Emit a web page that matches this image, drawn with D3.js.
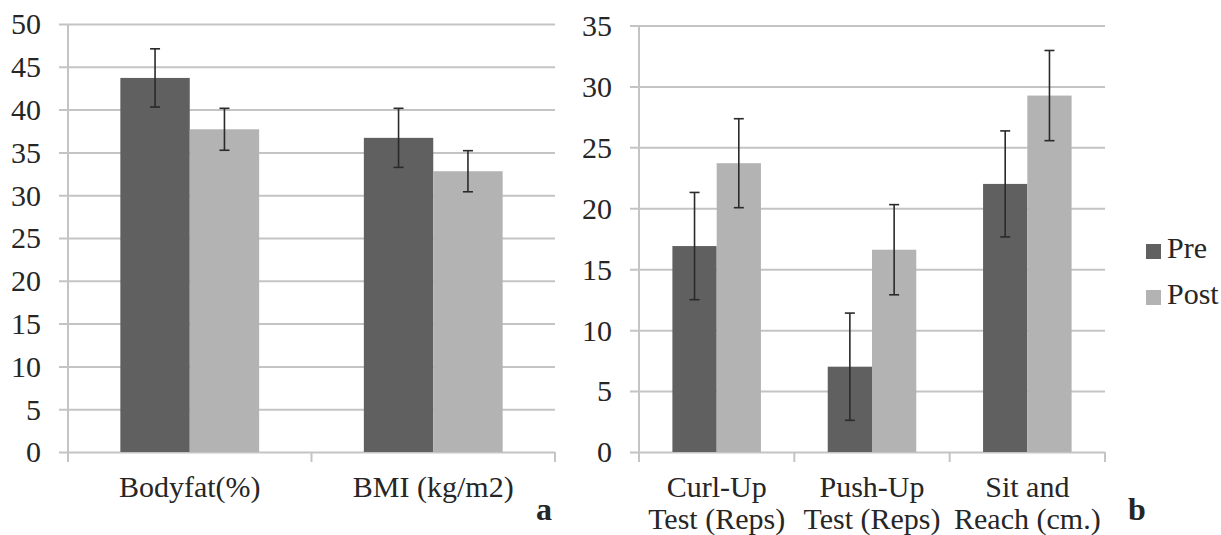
<!DOCTYPE html>
<html>
<head>
<meta charset="utf-8">
<script src="https://cdn.jsdelivr.net/npm/d3@7"></script>
<style>
  body { margin: 0; background: #fff; }
  svg text { font-family: 'Liberation Serif', 'Times New Roman', Tinos, 'DejaVu Serif', serif !important; fill: #262626; }
</style>
</head>
<body>
<script>
var w = 1221;
var h = 535;

var series = ["Pre", "Post"];
var colors = ["#606060", "#b3b3b3"];

// panel a
var catsA = ["Bodyfat(%)", "BMI (kg/m2)"];
var preA = [43.7, 36.7];
var preErrA = [3.4, 3.45];
var postA = [37.7, 32.8];
var postErrA = [2.45, 2.4];
var ticksA = [0, 5, 10, 15, 20, 25, 30, 35, 40, 45, 50];

// panel b
var catsB = [["Curl-Up", "Test (Reps)"], ["Push-Up", "Test (Reps)"], ["Sit and", "Reach (cm.)"]];
var preB = [16.9, 7.0, 22.0];
var preErrB = [4.4, 4.4, 4.35];
var postB = [23.7, 16.6, 29.25];
var postErrB = [3.65, 3.7, 3.7];
var ticksB = [0, 5, 10, 15, 20, 25, 30, 35];

var svg = d3.select("body")
    .append("svg")
    .attr("width", w)
    .attr("height", h);

function drawPanel(opt) {
    var g = svg.append("g");
    var cats = opt.cats.map(function(c, i){ return i; });

    var x0 = d3.scaleBand()
        .domain(cats)
        .range([opt.left, opt.right])
        .paddingInner(0.43)
        .paddingOuter(0.215);
    var x1 = d3.scaleBand()
        .domain(series)
        .range([0, x0.bandwidth()]);
    var y = d3.scaleLinear()
        .domain([0, opt.max])
        .range([opt.bottom, opt.top]);

    // gridlines + y labels
    var yAxis = d3.axisLeft(y)
        .tickValues(opt.ticks)
        .tickSize(-(opt.right - opt.left + 9))
        .tickPadding(18)
        .tickFormat(d3.format("d"));
    var ya = g.append("g")
        .attr("transform", "translate(" + (opt.left - 9) + ",0)")
        .call(yAxis)
        .attr("font-family", null);
    ya.select(".domain").remove();
    ya.selectAll(".tick line")
        .attr("stroke", "#c4c4c4")
        .attr("stroke-width", 2);
    ya.selectAll(".tick text")
        .attr("font-size", 30)
        .attr("dy", "0.33em")
        .attr("fill", "#262626");

    // vertical axis line
    g.append("line")
        .attr("x1", opt.left).attr("x2", opt.left)
        .attr("y1", y(opt.max)).attr("y2", opt.bottom + 10)
        .attr("stroke", "#c4c4c4")
        .attr("stroke-width", 2);

    // category tick marks
    var edges = cats.map(function(c){ return x0(c) - x0.step() * 0.215; });
    edges.push(opt.right);
    g.selectAll(".ctick")
        .data(edges.slice(1))
        .enter()
        .append("line")
        .attr("x1", function(d){ return d; })
        .attr("x2", function(d){ return d; })
        .attr("y1", opt.bottom)
        .attr("y2", opt.bottom + 10)
        .attr("stroke", "#c4c4c4")
        .attr("stroke-width", 2);

    // bars
    var rows = [];
    cats.forEach(function(c){
        rows.push({cat: c, s: "Pre", v: opt.pre[c], e: opt.preErr[c]});
        rows.push({cat: c, s: "Post", v: opt.post[c], e: opt.postErr[c]});
    });

    g.selectAll("rect.bar")
        .data(rows)
        .enter()
        .append("rect")
        .attr("class", "bar")
        .attr("x", function(d){ return x0(d.cat) + x1(d.s); })
        .attr("y", function(d){ return y(d.v); })
        .attr("width", x1.bandwidth())
        .attr("height", function(d){ return opt.bottom - y(d.v); })
        .attr("fill", function(d){ return colors[series.indexOf(d.s)]; });

    // error bars
    var eb = g.selectAll("g.err")
        .data(rows)
        .enter()
        .append("g")
        .attr("stroke", "#2a2a2a")
        .attr("stroke-width", 1.6);
    function cx(d){ return x0(d.cat) + x1(d.s) + x1.bandwidth() / 2; }
    eb.append("line")
        .attr("x1", cx).attr("x2", cx)
        .attr("y1", function(d){ return y(d.v + d.e); })
        .attr("y2", function(d){ return y(d.v - d.e); });
    eb.append("line")
        .attr("x1", function(d){ return cx(d) - 5; })
        .attr("x2", function(d){ return cx(d) + 5; })
        .attr("y1", function(d){ return y(d.v + d.e); })
        .attr("y2", function(d){ return y(d.v + d.e); });
    eb.append("line")
        .attr("x1", function(d){ return cx(d) - 5; })
        .attr("x2", function(d){ return cx(d) + 5; })
        .attr("y1", function(d){ return y(d.v - d.e); })
        .attr("y2", function(d){ return y(d.v - d.e); });

    // category labels
    var lab = g.selectAll("text.cat")
        .data(cats)
        .enter()
        .append("text")
        .attr("class", "cat")
        .attr("text-anchor", "middle")
        .attr("font-size", 30)
        .attr("x", function(d){ return x0(d) + x0.bandwidth() / 2; })
        .attr("y", 497);
    lab.each(function(d){
        var lines = [].concat(opt.cats[d]);
        var t = d3.select(this);
        lines.forEach(function(l, i){
            t.append("tspan")
                .attr("x", x0(d) + x0.bandwidth() / 2)
                .attr("dy", i == 0 ? 0 : 32)
                .text(l);
        });
    });

    // panel letter
    g.append("text")
        .attr("x", opt.letterX)
        .attr("y", 520)
        .attr("font-size", 32)
        .attr("font-weight", "bold")
        .attr("fill", "#111")
        .text(opt.letter);
}

drawPanel({
    cats: catsA, pre: preA, preErr: preErrA, post: postA, postErr: postErrA,
    ticks: ticksA, max: 50,
    left: 68, right: 555, top: 24, bottom: 452,
    letter: "a", letterX: 536
});

drawPanel({
    cats: catsB, pre: preB, preErr: preErrB, post: postB, postErr: postErrB,
    ticks: ticksB, max: 35,
    left: 639, right: 1105, top: 25.5, bottom: 452,
    letter: "b", letterX: 1128
});

// legend
var legend = svg.selectAll("g.legend")
    .data(series)
    .enter()
    .append("g")
    .attr("transform", function(d, i){ return "translate(1146," + (244 + i * 46) + ")"; });
legend.append("rect")
    .attr("width", 15)
    .attr("height", 15)
    .attr("fill", function(d, i){ return colors[i]; });
legend.append("text")
    .attr("x", 21)
    .attr("y", 14)
    .attr("font-size", 30)
    .text(function(d){ return d; });
</script>
</body>
</html>
